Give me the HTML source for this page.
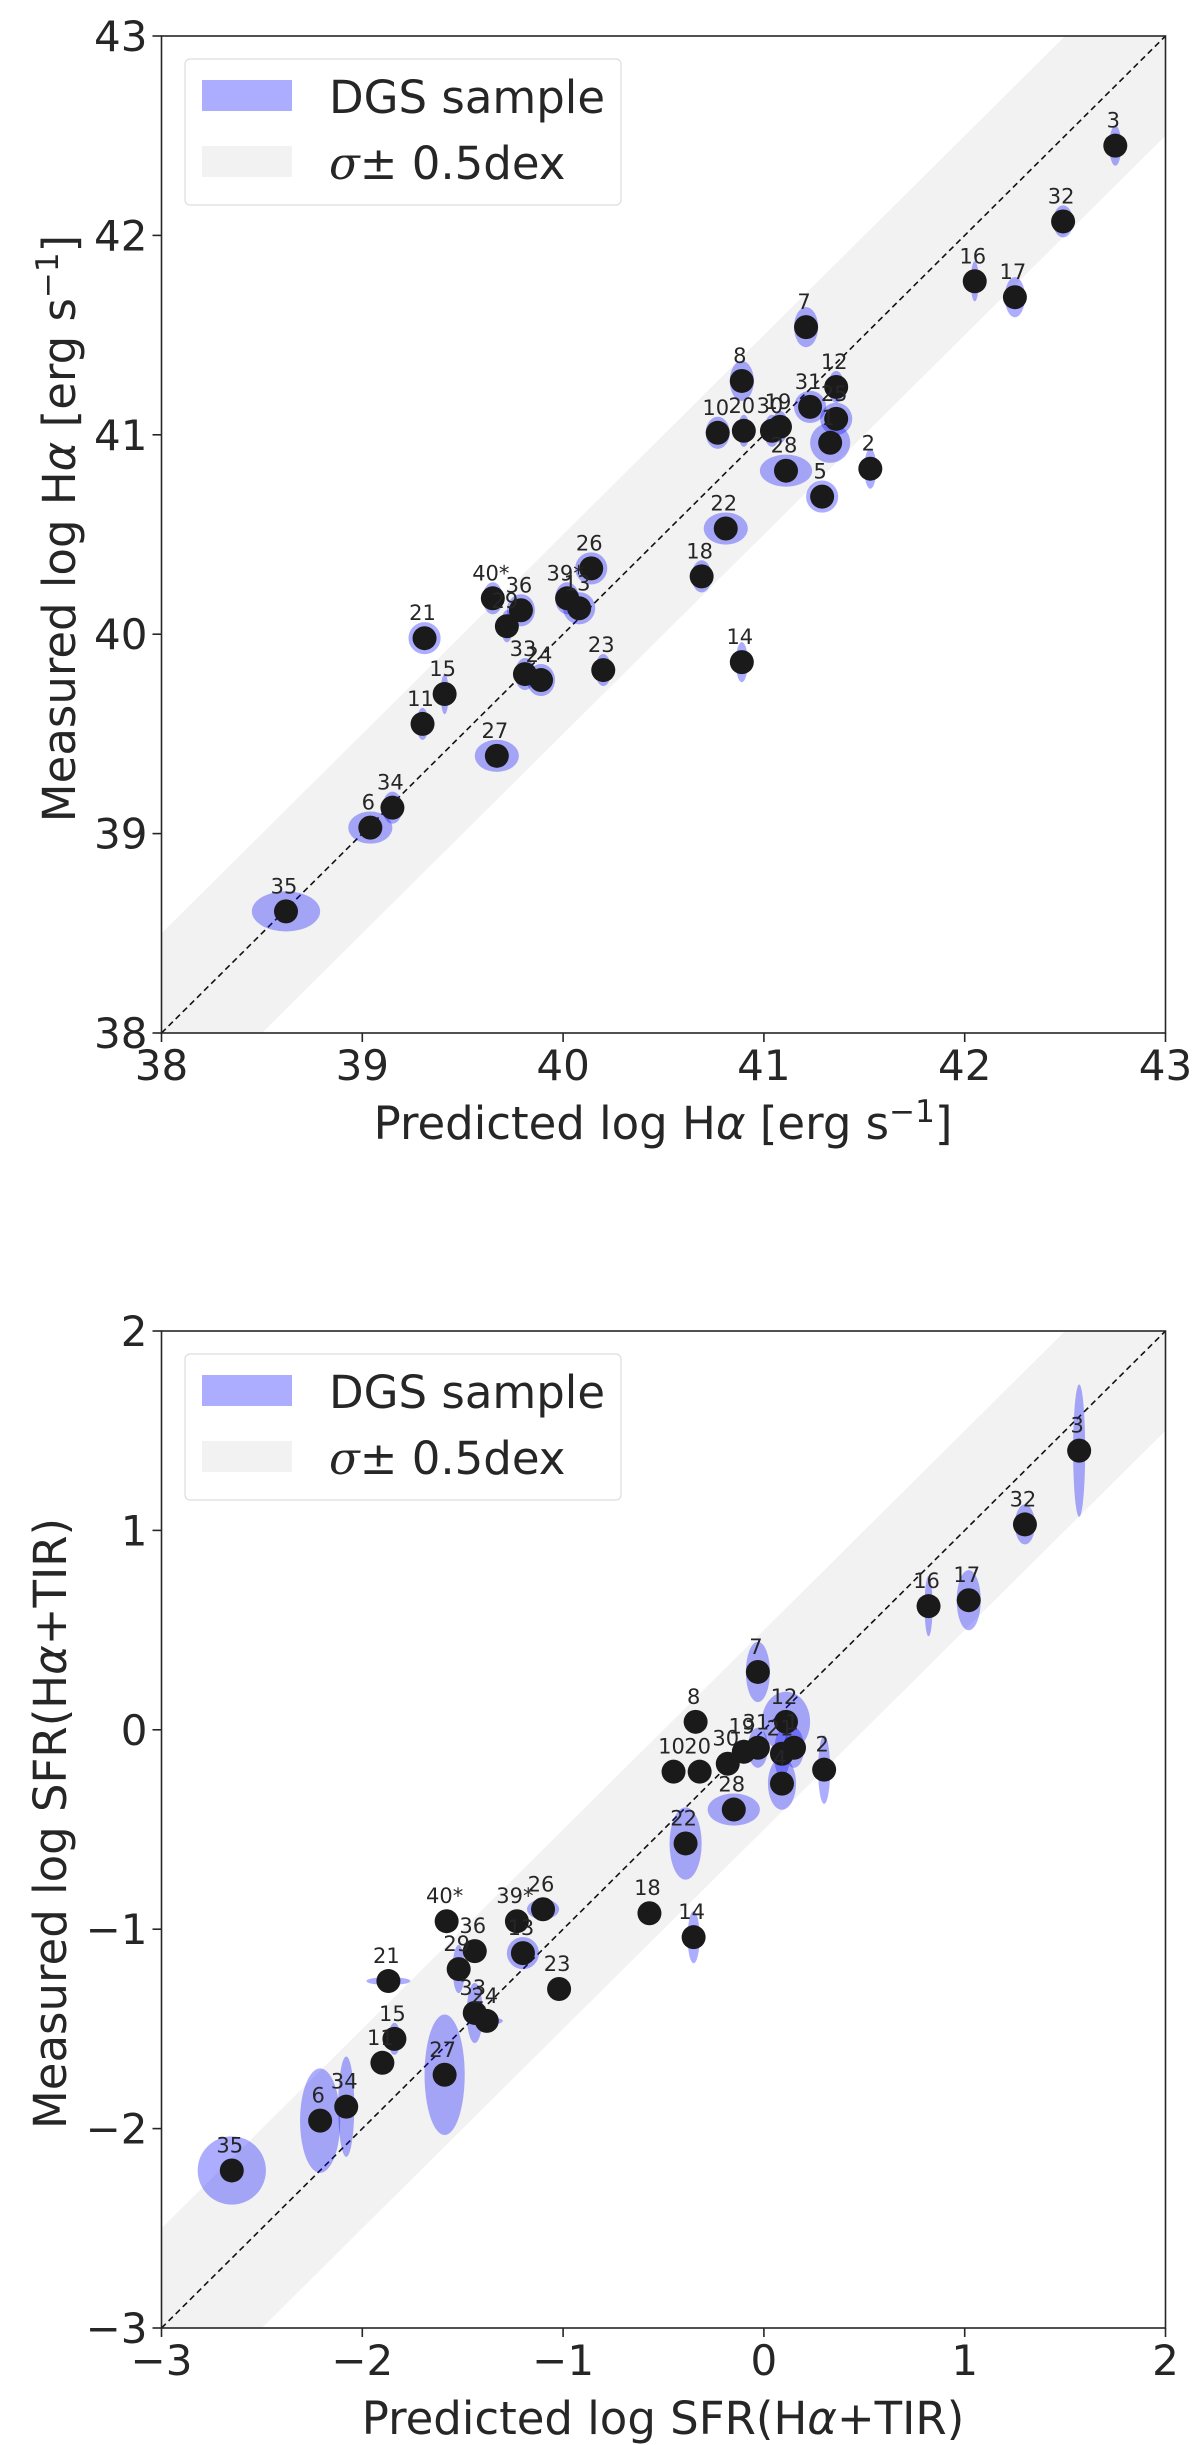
<!DOCTYPE html>
<html><head><meta charset="utf-8"><style>
html,body{margin:0;padding:0;background:#fff}
svg{display:block}
text{font-family:"DejaVu Sans","Liberation Sans",sans-serif;fill:#262626}
</style></head><body>
<svg id="fig" width="1200" height="2445" viewBox="0 0 1200 2445" xmlns="http://www.w3.org/2000/svg"></svg>
<script>
// ---- Chart 1 data (H-alpha) ----
const labels1 = ["3","32","16","17","7","8","12","31","25","1","10","20","30","19","2","28","5","22","18","26","40*","36","29","39*","13","21","14","23","33","24","15","11","27","34","6","35"];
const pred1 = [42.75,42.49,42.05,42.25,41.21,40.89,41.36,41.23,41.36,41.33,40.77,40.90,41.04,41.08,41.53,41.11,41.29,40.81,40.69,40.14,39.65,39.79,39.72,40.02,40.08,39.31,40.89,40.20,39.81,39.89,39.41,39.30,39.67,39.15,39.04,38.62];
const meas1 = [42.45,42.07,41.77,41.69,41.54,41.27,41.24,41.14,41.08,40.96,41.01,41.02,41.02,41.04,40.83,40.82,40.69,40.53,40.29,40.33,40.18,40.12,40.04,40.18,40.13,39.98,39.86,39.82,39.80,39.77,39.70,39.55,39.39,39.13,39.03,38.61];
const xerr1 = [0.03,0.05,0.02,0.05,0.06,0.06,0.04,0.08,0.08,0.10,0.06,0.03,0.04,0.04,0.03,0.13,0.08,0.11,0.05,0.08,0.05,0.07,0.03,0.06,0.08,0.08,0.03,0.04,0.05,0.07,0.02,0.03,0.11,0.05,0.11,0.17];
const yerr1 = [0.10,0.08,0.10,0.10,0.10,0.10,0.08,0.08,0.08,0.10,0.08,0.08,0.08,0.08,0.10,0.08,0.08,0.08,0.08,0.08,0.08,0.08,0.08,0.08,0.08,0.08,0.10,0.08,0.08,0.08,0.10,0.08,0.08,0.08,0.08,0.10];
const ticks1 = [38,39,40,41,42,43];
// ---- Chart 2 data (SFR) ----
const labels2 = ["3","32","16","17","7","8","12","30","19","31","1","21","10","20","2","4","28","22","18","14","26","40*","39*","36","13","29","21","23","33","24","15","11","27","6","34","35"];
const pred2 = [1.57,1.30,0.82,1.02,-0.03,-0.34,0.11,-0.18,-0.10,-0.03,0.15,0.09,-0.45,-0.32,0.30,0.09,-0.15,-0.39,-0.57,-0.35,-1.10,-1.58,-1.23,-1.44,-1.20,-1.52,-1.87,-1.02,-1.44,-1.38,-1.84,-1.90,-1.59,-2.21,-2.08,-2.65];
const meas2 = [1.40,1.03,0.62,0.65,0.29,0.04,0.04,-0.17,-0.11,-0.09,-0.09,-0.12,-0.21,-0.21,-0.20,-0.27,-0.40,-0.57,-0.92,-1.04,-0.90,-0.96,-0.96,-1.11,-1.12,-1.20,-1.26,-1.30,-1.42,-1.46,-1.55,-1.67,-1.73,-1.96,-1.89,-2.21];
const xerr2 = [0.03,0.05,0.02,0.06,0.06,0.03,0.12,0.03,0.04,0.05,0.05,0.04,0.03,0.03,0.03,0.07,0.13,0.08,0.03,0.03,0.08,0.03,0.03,0.06,0.08,0.03,0.11,0.03,0.04,0.08,0.03,0.03,0.10,0.10,0.04,0.17];
const yerr2 = [0.33,0.10,0.15,0.15,0.15,0.03,0.15,0.05,0.06,0.10,0.10,0.12,0.03,0.03,0.17,0.13,0.08,0.18,0.03,0.13,0.05,0.03,0.03,0.05,0.08,0.12,0.02,0.03,0.15,0.02,0.08,0.03,0.30,0.26,0.25,0.17];
const ticks2 = [-3,-2,-1,0,1,2];

const NS="http://www.w3.org/2000/svg";
const svg=document.getElementById('fig');
function mk(tag,attrs,parent,txt){const e=document.createElementNS(NS,tag);for(const k in attrs)e.setAttribute(k,attrs[k]);if(txt!==undefined)e.textContent=txt;(parent||svg).appendChild(e);return e;}

function chart(cfg){
  const g=mk('g',{});
  
  
  const L=161.5,R=1165.5,T=cfg.top,B=cfg.top+997;
  const lo=cfg.ticks[0],hi=cfg.ticks[cfg.ticks.length-1];
  const sx=v=>L+(v-lo)/(hi-lo)*(R-L);
  const sy=v=>B-(v-lo)/(hi-lo)*(B-T);
  const clip='clip'+cfg.top;
  const defs=mk('defs',{},g);const cp=mk('clipPath',{id:clip},defs);mk('rect',{x:L,y:T,width:R-L,height:B-T},cp);
  const pg=mk('g',{'clip-path':'url(#'+clip+')'},g);
  const band=mk('polygon',{points:`${sx(lo)},${sy(lo+0.5)} ${sx(hi-0.5)},${sy(hi)} ${sx(hi)},${sy(hi)} ${sx(hi)},${sy(hi-0.5)} ${sx(lo+0.5)},${sy(lo)} ${sx(lo)},${sy(lo)}`,fill:'#f2f2f2'},pg);
  
  
  const one=mk('line',{x1:sx(lo),y1:sy(lo),x2:sx(hi),y2:sy(hi),stroke:'#111','stroke-width':1.6,'stroke-dasharray':'6,4'},pg);
  
  
  const sc=(R-L)/(hi-lo);
  cfg.px.forEach((p,i)=>{
    const el=mk('ellipse',{cx:sx(p),cy:sy(cfg.py[i]),rx:cfg.xe[i]*sc,ry:cfg.ye[i]*sc,fill:'#0000ff','fill-opacity':0.32},pg);
    
    
  });
  cfg.px.forEach((p,i)=>{
    const c=mk('circle',{cx:sx(p),cy:sy(cfg.py[i]),r:12,fill:'#1a1a1a'},pg);
    
    
    const t=mk('text',{x:sx(p)-2,y:sy(cfg.py[i])-18,'font-size':21,'text-anchor':'middle'},pg,cfg.lab[i]);
    
    
  });
  const fr=mk('rect',{x:L,y:T,width:R-L,height:B-T,fill:'none',stroke:'#262626','stroke-width':1.6},g);
  
  
  cfg.ticks.forEach(v=>{
    mk('line',{x1:sx(v),y1:B,x2:sx(v),y2:B+9,stroke:'#262626','stroke-width':1.6},g);
    mk('line',{x1:L-9,y1:sy(v),x2:L,y2:sy(v),stroke:'#262626','stroke-width':1.6},g);
    const s=v<0?'\u2212'+Math.abs(v):String(v);
    const tx=mk('text',{x:sx(v),y:B+47,'font-size':42,'text-anchor':'middle'},g,s);
    
    
    const ty=mk('text',{x:L-14,y:sy(v)+15,'font-size':42,'text-anchor':'end'},g,s);
    
    
  });
  const xt=mk('text',{x:663,y:B+106,'font-size':45,'text-anchor':'middle'},g);
  xt.innerHTML=cfg.xtitle;
  
  
  const yt=mk('text',{x:0,y:0,'font-size':45,'text-anchor':'middle',transform:`translate(${cfg.ytx},${(T+B)/2-6}) rotate(-90)`},g);
  yt.innerHTML=cfg.ytitle;
  
  
  const lg=mk('g',{},g);
  
  
  const ly=T+23;
  mk('rect',{x:185,y:ly,width:436,height:146,rx:5,fill:'#fff','fill-opacity':0.8,stroke:'#dddddd','stroke-width':1.2},lg);
  mk('rect',{x:202,y:ly+21,width:90,height:31,fill:'#0000ff','fill-opacity':0.32},lg);
  const l1=mk('text',{x:329,y:ly+54,'font-size':45},lg,'DGS sample');
  
  
  mk('rect',{x:202,y:ly+87,width:90,height:31,fill:'#f2f2f2'},lg);
  const l2=mk('text',{x:329,y:ly+120,'font-size':45},lg);
  l2.innerHTML='<tspan font-style="italic" font-family="DejaVu Serif, serif">σ</tspan>± 0.5dex';
  
  
}
chart({name:'halpha-chart',top:36,ticks:ticks1,px:pred1,py:meas1,xe:xerr1,ye:yerr1,lab:labels1,ytx:75,
  xtitle:'Predicted log H<tspan font-style="italic">α</tspan> [erg s<tspan dy="-17" font-size="31">−1</tspan><tspan dy="17">]</tspan>',
  ytitle:'Measured log H<tspan font-style="italic">α</tspan> [erg s<tspan dy="-17" font-size="31">−1</tspan><tspan dy="17">]</tspan>'});
chart({name:'sfr-chart',top:1331,ticks:ticks2,px:pred2,py:meas2,xe:xerr2,ye:yerr2,lab:labels2,ytx:66,
  xtitle:'Predicted log SFR(H<tspan font-style="italic">α</tspan>+TIR)',
  ytitle:'Measured log SFR(H<tspan font-style="italic">α</tspan>+TIR)'});
</script>
</body></html>
